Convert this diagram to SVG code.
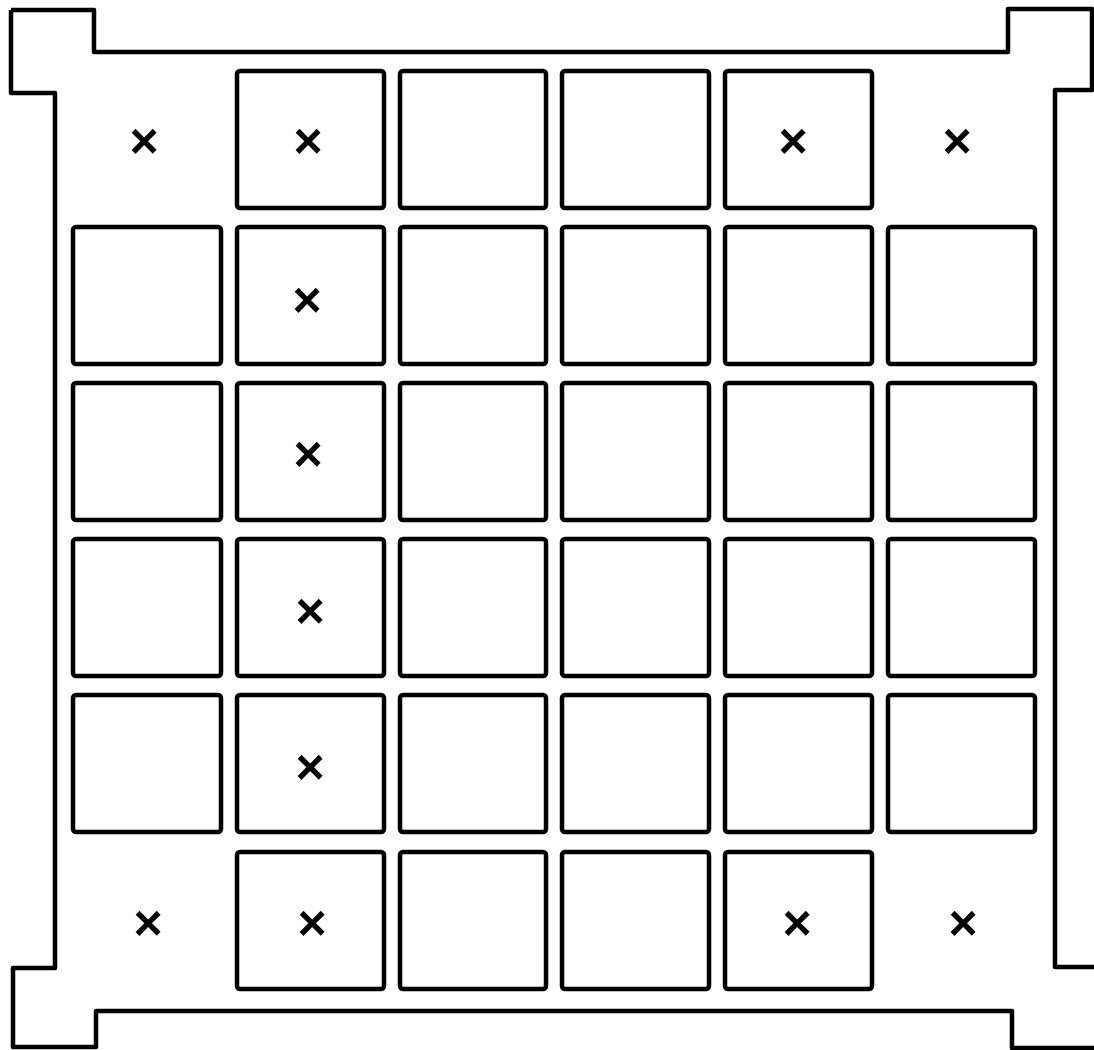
<svg xmlns="http://www.w3.org/2000/svg" width="1094" height="1050" viewBox="0 0 1094 1050">
<style>
.o{fill:none;stroke:#000;stroke-width:4.5;stroke-linejoin:round}
.c{fill:#fff;stroke:#000;stroke-width:4.5}
.x{font-family:"Liberation Sans",Arial,sans-serif;font-size:50px;font-weight:bold;text-anchor:middle;fill:#000}
</style>
<rect width="1094" height="1050" fill="#fff"/>
<g id="outline">
<path class="o" d="M11,10 L94,10 L94,52 L1008,52 L1008,9 L1092,9 L1092,90 L1055,90 L1055,967 L1100,967"/>
<path class="o" d="M11,10 L11,93 L55,93 L55,968 L13,968 L13,1047 L96,1047 L96,1011 L1012,1011 L1012,1048 L1100,1048"/>
</g>
<g id="cells">
<rect class="c" x="237" y="71" width="147" height="137" rx="3"/>
<rect class="c" x="400" y="71" width="146" height="137" rx="3"/>
<rect class="c" x="562" y="71" width="147" height="137" rx="3"/>
<rect class="c" x="725" y="71" width="147" height="137" rx="3"/>

<rect class="c" x="73" y="227" width="148" height="137" rx="3"/>
<rect class="c" x="237" y="227" width="147" height="137" rx="3"/>
<rect class="c" x="400" y="227" width="146" height="137" rx="3"/>
<rect class="c" x="562" y="227" width="147" height="137" rx="3"/>
<rect class="c" x="725" y="227" width="147" height="137" rx="3"/>
<rect class="c" x="888" y="227" width="147" height="137" rx="3"/>

<rect class="c" x="73" y="383" width="148" height="137" rx="3"/>
<rect class="c" x="237" y="383" width="147" height="137" rx="3"/>
<rect class="c" x="400" y="383" width="146" height="137" rx="3"/>
<rect class="c" x="562" y="383" width="147" height="137" rx="3"/>
<rect class="c" x="725" y="383" width="147" height="137" rx="3"/>
<rect class="c" x="888" y="383" width="147" height="137" rx="3"/>

<rect class="c" x="73" y="539" width="148" height="137" rx="3"/>
<rect class="c" x="237" y="539" width="147" height="137" rx="3"/>
<rect class="c" x="400" y="539" width="146" height="137" rx="3"/>
<rect class="c" x="562" y="539" width="147" height="137" rx="3"/>
<rect class="c" x="725" y="539" width="147" height="137" rx="3"/>
<rect class="c" x="888" y="539" width="147" height="137" rx="3"/>

<rect class="c" x="73" y="695" width="148" height="137" rx="3"/>
<rect class="c" x="237" y="695" width="147" height="137" rx="3"/>
<rect class="c" x="400" y="695" width="146" height="137" rx="3"/>
<rect class="c" x="562" y="695" width="147" height="137" rx="3"/>
<rect class="c" x="725" y="695" width="147" height="137" rx="3"/>
<rect class="c" x="888" y="695" width="147" height="137" rx="3"/>

<rect class="c" x="237" y="852" width="147" height="137" rx="3"/>
<rect class="c" x="400" y="852" width="146" height="137" rx="3"/>
<rect class="c" x="562" y="852" width="147" height="137" rx="3"/>
<rect class="c" x="725" y="852" width="147" height="137" rx="3"/>
</g>
<g id="marks">
<text class="x" x="144" y="158">×</text>
<text class="x" x="308" y="158">×</text>
<text class="x" x="793" y="158">×</text>
<text class="x" x="957" y="158">×</text>
<text class="x" x="307" y="317">×</text>
<text class="x" x="308" y="471">×</text>
<text class="x" x="310" y="628">×</text>
<text class="x" x="310" y="784">×</text>
<text class="x" x="148" y="940">×</text>
<text class="x" x="312" y="940">×</text>
<text class="x" x="797" y="940">×</text>
<text class="x" x="963" y="940">×</text>
</g>
</svg>
